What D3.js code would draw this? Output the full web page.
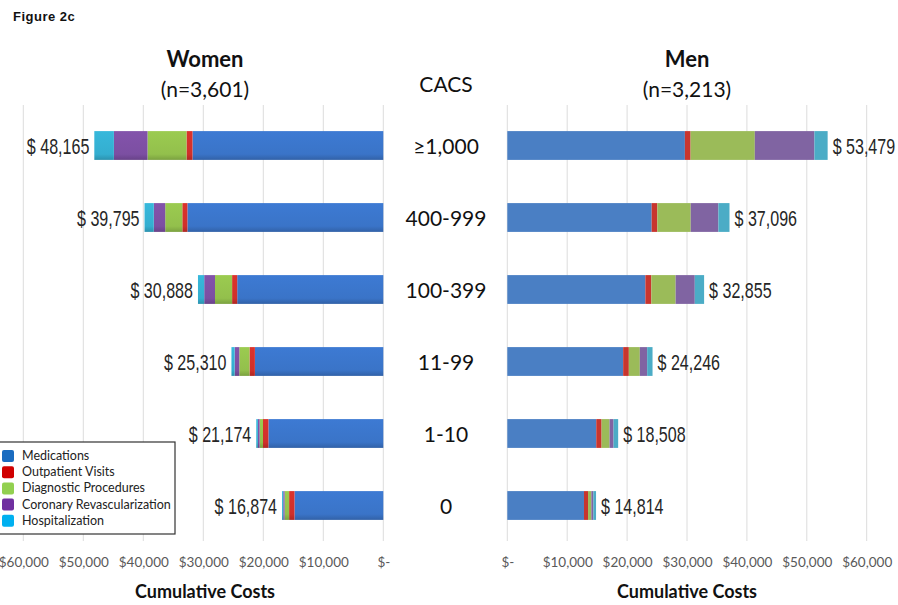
<!DOCTYPE html>
<html><head><meta charset="utf-8">
<script src="https://cdn.jsdelivr.net/npm/d3@7"></script>
<style>
body{margin:0;background:#fff;}
svg{display:block;}
</style></head>
<body><svg id="c" width="898" height="605"></svg>
<script>
// ---- data ----
const categories = ["≥1,000","400-999","100-399","11-99","1-10","0"];
const seriesNames = ["Medications","Outpatient Visits","Diagnostic Procedures","Coronary Revascularization","Hospitalization"];
const womenN = "(n=3,601)";
const menN = "(n=3,213)";
// Women values per category (order as categories)
const womenMedications   = [31800, 32650, 24350, 21400, 19150, 14800];
const womenOutpatient    = [1000,   850,   850,   900,   900,   900];
const womenDiagnostic    = [6500,  2850,  2850,  1700,   560,   750];
const womenRevasc        = [5600,  1900,  1800,   780,   284,   224];
const womenHospital      = [3265,  1545,  1038,   530,   280,   200];
const womenTotals        = [48165, 39795, 30888, 25310, 21174, 16874];
// Men values
const menMedications     = [29650, 24100, 23050, 19340, 14850, 12800];
const menOutpatient      = [950,    950,  1000,   950,   890,   680];
const menDiagnostic      = [10720, 5570,  4050,  1830,  1330,   550];
const menRevasc          = [9950,  4620,  3200,  1230,   668,   334];
const menHospital        = [2209,  1856,  1555,   896,   770,   450];
const menTotals          = [53479, 37096, 32855, 24246, 18508, 14814];
const tickValues = [0,10000,20000,30000,40000,50000,60000];
const tickLabels = ["$-","$10,000","$20,000","$30,000","$40,000","$50,000","$60,000"];

// ---- styles ----
const barColors = ["#4a7fc4","#c8352e","#9bbb59","#8064a2","#4bacc6"];
const womenColors = ["#3a74c8","#d0302a","#93c04c","#7c4fa2","#34aed0"];
const legendColors = ["#1a6cc0","#d00000","#92d050","#7030a0","#00b0f0"];
const uiFont = "Lato, 'Open Sans', sans-serif";
const numFont = "'Liberation Sans', Arial, sans-serif";

const svg = d3.select("#c");
const defs = svg.append("defs");
womenColors.forEach((c,i)=>{
  const g = defs.append("linearGradient").attr("id","wg"+i).attr("x1",0).attr("x2",0).attr("y1",0).attr("y2",1);
  g.append("stop").attr("offset","0%").attr("stop-color",d3.color(c).brighter(0.15));
  g.append("stop").attr("offset","80%").attr("stop-color",c);
  g.append("stop").attr("offset","100%").attr("stop-color",d3.color(c).darker(0.5));
});

function buildRows(a,b,c,d,e){
  return categories.map((cat,i)=>({cat, "Medications":a[i],"Outpatient Visits":b[i],"Diagnostic Procedures":c[i],"Coronary Revascularization":d[i],"Hospitalization":e[i]}));
}
const womenRows = buildRows(womenMedications,womenOutpatient,womenDiagnostic,womenRevasc,womenHospital);
const menRows = buildRows(menMedications,menOutpatient,menDiagnostic,menRevasc,menHospital);
const stack = d3.stack().keys(seriesNames);
const womenStack = stack(womenRows);
const menStack = stack(menRows);

const xL = d3.scaleLinear().domain([0,60000]).range([383.3,23.3]);
const xR = d3.scaleLinear().domain([0,60000]).range([507.3,866.7]);
const y = d3.scaleBand().domain(categories).range([109.5,541.5]).paddingInner(0.6).paddingOuter(0.3);

// gridlines
const gTop = 105, gBot = 541;
svg.append("g").selectAll("line").data(tickValues).join("line")
  .attr("x1",d=>xL(d)).attr("x2",d=>xL(d)).attr("y1",gTop).attr("y2",gBot)
  .attr("stroke","#dcdcdc").attr("stroke-width",1);
svg.append("g").selectAll("line").data(tickValues).join("line")
  .attr("x1",d=>xR(d)).attr("x2",d=>xR(d)).attr("y1",gTop).attr("y2",gBot)
  .attr("stroke","#dcdcdc").attr("stroke-width",1);

// axes (labels only)
const axL = d3.axisBottom(xL).tickValues(tickValues).tickFormat((d,i)=>tickLabels[i]).tickSize(0).tickPadding(0);
const axR = d3.axisBottom(xR).tickValues(tickValues).tickFormat((d,i)=>tickLabels[i]).tickSize(0).tickPadding(0);
[axL, axR].forEach(ax=>{
  const g = svg.append("g").attr("transform","translate(0,557)").call(ax);
  g.select(".domain").remove();
  g.selectAll("text").attr("font-family",uiFont).attr("font-size",13.5).attr("fill","#595959").attr("dy","0.71em");
});

// bars women
svg.append("g").selectAll("g").data(womenStack).join("g")
  .attr("fill",(d,i)=>`url(#wg${i})`)
  .selectAll("rect").data(d=>d).join("rect")
  .attr("x",d=>xL(d[1])).attr("width",d=>xL(d[0])-xL(d[1]))
  .attr("y",d=>y(d.data.cat)).attr("height",y.bandwidth());
// bars men
svg.append("g").selectAll("g").data(menStack).join("g")
  .attr("fill",(d,i)=>barColors[i])
  .selectAll("rect").data(d=>d).join("rect")
  .attr("x",d=>xR(d[0])).attr("width",d=>xR(d[1])-xR(d[0]))
  .attr("y",d=>y(d.data.cat)).attr("height",y.bandwidth());

// total labels (condensed look)
const fmt = d3.format(",");
const sx = 0.73;
svg.append("g").selectAll("text").data(womenTotals).join("text")
  .attr("transform",(d,i)=>`translate(${xL(d)-5},${y(categories[i])+y.bandwidth()/2+8}) scale(${sx},1)`)
  .attr("text-anchor","end").attr("font-family",numFont).attr("font-size",22).attr("fill","#262626")
  .text(d=>"$ "+fmt(d));
svg.append("g").selectAll("text").data(menTotals).join("text")
  .attr("transform",(d,i)=>`translate(${xR(d)+5},${y(categories[i])+y.bandwidth()/2+8}) scale(${sx},1)`)
  .attr("text-anchor","start").attr("font-family",numFont).attr("font-size",22).attr("fill","#262626")
  .text(d=>"$ "+fmt(d));

// category labels
svg.append("g").selectAll("text").data(categories).join("text")
  .attr("x",446).attr("y",d=>y(d)+y.bandwidth()/2+8)
  .attr("text-anchor","middle").attr("font-family",uiFont).attr("font-size",21).attr("fill","#111")
  .text(d=>d);

// titles
const T = (x,yv,t,size,weight,anchor="middle",fam=uiFont,fill="#111")=>svg.append("text").attr("x",x).attr("y",yv)
  .attr("text-anchor",anchor).attr("font-family",fam).attr("font-size",size).attr("font-weight",weight).attr("fill",fill).text(t);
T(13,21,"Figure  2c",13,"bold","start","'Liberation Sans', Arial, sans-serif","#111").attr("letter-spacing",0.5);
T(205,67,"Women",22,"bold");
T(205,97,womenN,21,"normal");
T(687,67,"Men",22,"bold");
T(687,97,menN,21,"normal");
T(446,92,"CACS",21,"normal");
T(205,598,"Cumulative  Costs",18,"bold");
T(687,598,"Cumulative  Costs",18,"bold");

// legend
const lg = svg.append("g");
lg.append("rect").attr("x",-1).attr("y",442).attr("width",176).attr("height",92)
  .attr("fill","#fff").attr("stroke","#333").attr("stroke-width",1.2);
seriesNames.forEach((s,i)=>{
  const yy = 456 + i*16.2;
  lg.append("rect").attr("x",2).attr("y",yy-6).attr("width",12).attr("height",12).attr("rx",2).attr("fill",legendColors[i]);
  lg.append("text").attr("x",22).attr("y",yy+4).attr("font-family",uiFont).attr("font-size",12.5).attr("fill","#222").text(s);
});
</script></body></html>
